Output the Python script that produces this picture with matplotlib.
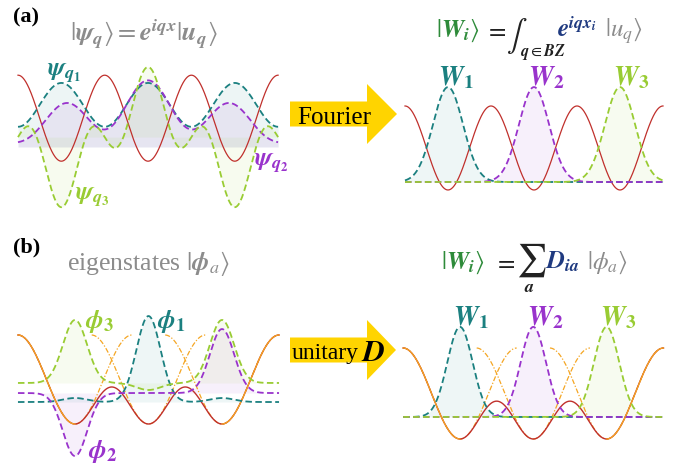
import numpy as np
import matplotlib.pyplot as plt
from matplotlib.patches import FancyArrow

plt.rcParams['mathtext.fontset'] = 'stix'
plt.rcParams['font.family'] = ['Liberation Serif', 'DejaVu Serif']

W_PX, H_PX = 685, 472

TEAL = '#1b8080'
PURPLE = '#9933cc'
GREEN = '#99cc33'
RED = '#c0302c'
ORANGE = '#f5a623'
GRAY = '#8c8c8c'
WGREEN = '#2e8b3a'
NAVY = '#1f3a80'
YELLOW = '#ffd400'

# (a) Bloch states  psi_q(x) = cos(q (x - xc)) * u_q(x), lattice constant = 1
a_cells = 3
a_xc = 1.5
a_q = [0.0, 0.28, 1.0]            # units of pi / a
a_u0 = [0.98, 1.0, 0.29]
a_u1 = [0.51, 0.55, 1.34]
a_base = [0.0, 0.0, 0.23]
a_pot_mid = 0.67
# (a) Wannier functions after the Fourier transform
aw_centers = [0.5, 1.5, 2.5]
aw_height = 2.26
aw_sigma = 0.175
aw_pot_mid = 0.81

# (b) three-well potential, eigenstates and the rotated Wannier functions
b_wells = [0, 1, 2]
b_half = 0.776                    # half width of a single local well
b_bump = 0.416                    # height of the inner barriers
b_sigma = 0.165
b_phi_coef = [[0.045, 0.966, 0.045],
              [-0.708, 0.0, 0.719],
              [0.708, -0.079, 0.708]]
b_phi_base = [0.247, 0.348, 0.461]
bw_height = 0.99
bw_base = 0.242
bw_sigma = 0.173

colors = [TEAL, PURPLE, GREEN]
dash = (0, (3.6, 1.9))

fig = plt.figure(figsize=(6.85, 4.72), dpi=100)


def panel(ox, sx, oy, sy, box):
    # ox, oy: pixel position of data origin, sx, sy: pixels per unit
    x0, y0, x1, y1 = box
    ax = fig.add_axes([x0 / W_PX, 1 - y1 / H_PX, (x1 - x0) / W_PX, (y1 - y0) / H_PX])
    ax.set_xlim((x0 - ox) / sx, (x1 - ox) / sx)
    ax.set_ylim((oy - y1) / sy, (oy - y0) / sy)
    ax.axis('off')
    ax.patch.set_visible(False)
    return ax


def gauss(x, c, s):
    return np.exp(-(x - c) ** 2 / (2 * s ** 2))


def local_well(x, c):
    y = 0.5 - 0.5 * np.cos(np.pi * (x - c) / b_half)
    return np.where(np.abs(x - c) <= b_half, y, np.nan)


def wells_potential(x):
    inner = b_bump / 2 * (1 - np.cos(2 * np.pi * x))
    left = 0.5 - 0.5 * np.cos(np.pi * (x - b_wells[0]) / b_half)
    right = 0.5 - 0.5 * np.cos(np.pi * (x - b_wells[-1]) / b_half)
    return np.where(x < b_wells[0], left, np.where(x > b_wells[-1], right, inner))


def draw_wells(ax, x):
    for c in b_wells:
        ax.plot(x, local_well(x, c), color=ORANGE, lw=0.9, ls=(0, (4, 1.5, 1, 1.5)), zorder=2)
    ax.plot(x, wells_potential(x), color=RED, lw=1.0, zorder=3)
    out = (x <= b_wells[0]) | (x >= b_wells[-1])
    ax.plot(np.where(out, x, np.nan), wells_potential(x), color=ORANGE, lw=0.9, zorder=4)


# ---------- (a) left : Bloch states
axA = panel(18, 86.7, 147, 43, (10, 50, 285, 215))
x = np.linspace(0, a_cells, 800)
for j in range(3):
    psi = a_base[j] + np.cos(a_q[j] * np.pi * (x - a_xc)) * (a_u0[j] - a_u1[j] * np.cos(2 * np.pi * x))
    axA.fill_between(x, a_base[j], psi, color=colors[j], alpha=0.08, lw=0)
    axA.plot(x, psi, color=colors[j], lw=1.3, ls=dash, zorder=3)
axA.plot(x, a_pot_mid + np.cos(2 * np.pi * x), color=RED, lw=0.9, zorder=2)

# ---------- (a) right : Wannier functions
axAW = panel(405, 86, 182, 42, (398, 60, 670, 200))
axAW.plot(x, aw_pot_mid + np.cos(2 * np.pi * x), color=RED, lw=0.9, zorder=2)
for j, c in enumerate(aw_centers):
    w = aw_height * gauss(x, c, aw_sigma)
    axAW.fill_between(x, 0, w, color=colors[j], alpha=0.07, lw=0)
    axAW.plot(x, w, color=colors[j], lw=1.3, ls=dash, zorder=3)

# ---------- (b) left : eigenstates
xb = np.linspace(b_wells[0] - b_half, b_wells[-1] + b_half, 900)
axB = panel(75, 73.5, 424, 89, (10, 290, 285, 470))
draw_wells(axB, xb)
for j in range(3):
    phi = b_phi_base[j] + sum(cf * gauss(xb, c, b_sigma) for cf, c in zip(b_phi_coef[j], b_wells))
    axB.fill_between(xb, b_phi_base[j], phi, color=colors[j], alpha=0.07, lw=0)
    axB.plot(xb, phi, color=colors[j], lw=1.3, ls=dash, zorder=5)

# ---------- (b) right : Wannier functions
axBW = panel(460, 73.3, 439, 91, (398, 290, 670, 450))
draw_wells(axBW, xb)
for j, c in enumerate(b_wells):
    w = bw_base + bw_height * gauss(xb, c, bw_sigma)
    axBW.fill_between(xb, bw_base, w, color=colors[j], alpha=0.07, lw=0)
    axBW.plot(xb, w, color=colors[j], lw=1.3, ls=dash, zorder=5)

# ---------- overlay: text and arrows (pixel coordinates)
ov = fig.add_axes([0, 0, 1, 1])
ov.set_xlim(0, W_PX)
ov.set_ylim(H_PX, 0)
ov.axis('off')
ov.patch.set_visible(False)


def put(x, y, s, color='black', size=17, **kw):
    ov.text(x, y, s, color=color, fontsize=size, ha='left', va='baseline', **kw)


put(13, 22, '(a)', size=16, weight='bold')
put(13, 252, '(b)', size=16, weight='bold')

put(70, 41, r'$|\mathbfit{\psi}_{\mathbfit{q}}\rangle = \mathbfit{e}^{\mathbfit{iqx}}|\mathbfit{u}_{\mathbfit{q}}\rangle$',
    GRAY, 19)
put(47, 76, r'$\mathbfit{\psi}_{\mathbfit{q}_{\mathbf{1}}}$', TEAL, 18.5)
put(254, 166, r'$\mathbfit{\psi}_{\mathbfit{q}_{\mathbf{2}}}$', PURPLE, 18.5)
put(75, 200, r'$\mathbfit{\psi}_{\mathbfit{q}_{\mathbf{3}}}$', GREEN, 18.5)

# top right formula
put(436, 37, r'$|\mathbfit{W}_{\mathbfit{i}}\rangle$', WGREEN, 18)
put(485, 37, r'$=$', '#222222', 18)
put(506, 44, r'$\int$', '#222222', 22)
put(520, 56, r'$\mathbfit{q}\in\mathbfit{BZ}$', '#222222', 11.5)
put(557, 37, r'$\mathbfit{e}^{\mathbfit{iqx}_{\mathbfit{i}}}$', NAVY, 18)
put(605, 37, r'$|\mathit{u}_{\mathit{q}}\rangle$', GRAY, 18)

for xl, s, c in zip([438, 528, 613], ['1', '2', '3'], colors):
    put(xl, 85, r'$\mathbfit{W}_{\mathbf{%s}}$' % s, c, 20)

# bottom left
put(67, 270, r'eigenstates $|\mathbfit{\phi}_{\mathit{a}}\rangle$', GRAY, 18.5)
put(85, 328, r'$\mathbfit{\phi}_{\mathbf{3}}$', GREEN, 19)
put(157, 328, r'$\mathbfit{\phi}_{\mathbf{1}}$', TEAL, 19)
put(88, 458, r'$\mathbfit{\phi}_{\mathbf{2}}$', PURPLE, 19)

# bottom right formula
put(441, 269, r'$|\mathbfit{W}_{\mathbfit{i}}\rangle$', WGREEN, 18)
put(494, 269, r'$=$', '#222222', 18)
put(516, 269, r'$\sum$', '#222222', 24)
put(524, 292, r'$\mathbfit{a}$', '#222222', 13)
put(545, 269, r'$\mathbfit{D}_{\mathbfit{ia}}$', NAVY, 18)
put(587, 269, r'$|\mathit{\phi}_{\mathit{a}}\rangle$', GRAY, 18)

for xl, s, c in zip([453, 527, 600], ['1', '2', '3'], colors):
    put(xl, 325, r'$\mathbfit{W}_{\mathbf{%s}}$' % s, c, 20)

# arrows
ov.add_patch(FancyArrow(290, 114, 107, 0, width=25, head_width=60, head_length=30,
                        length_includes_head=True, color=YELLOW, lw=0))
put(297, 124, 'Fourier', 'black', 18)
ov.add_patch(FancyArrow(290, 350, 106, 0, width=25, head_width=60, head_length=29,
                        length_includes_head=True, color=YELLOW, lw=0))
put(292, 359, 'unitary', 'black', 17)
put(361, 361, r'$\mathbfit{D}$', 'black', 22)

fig.savefig('out.png', dpi=100)
